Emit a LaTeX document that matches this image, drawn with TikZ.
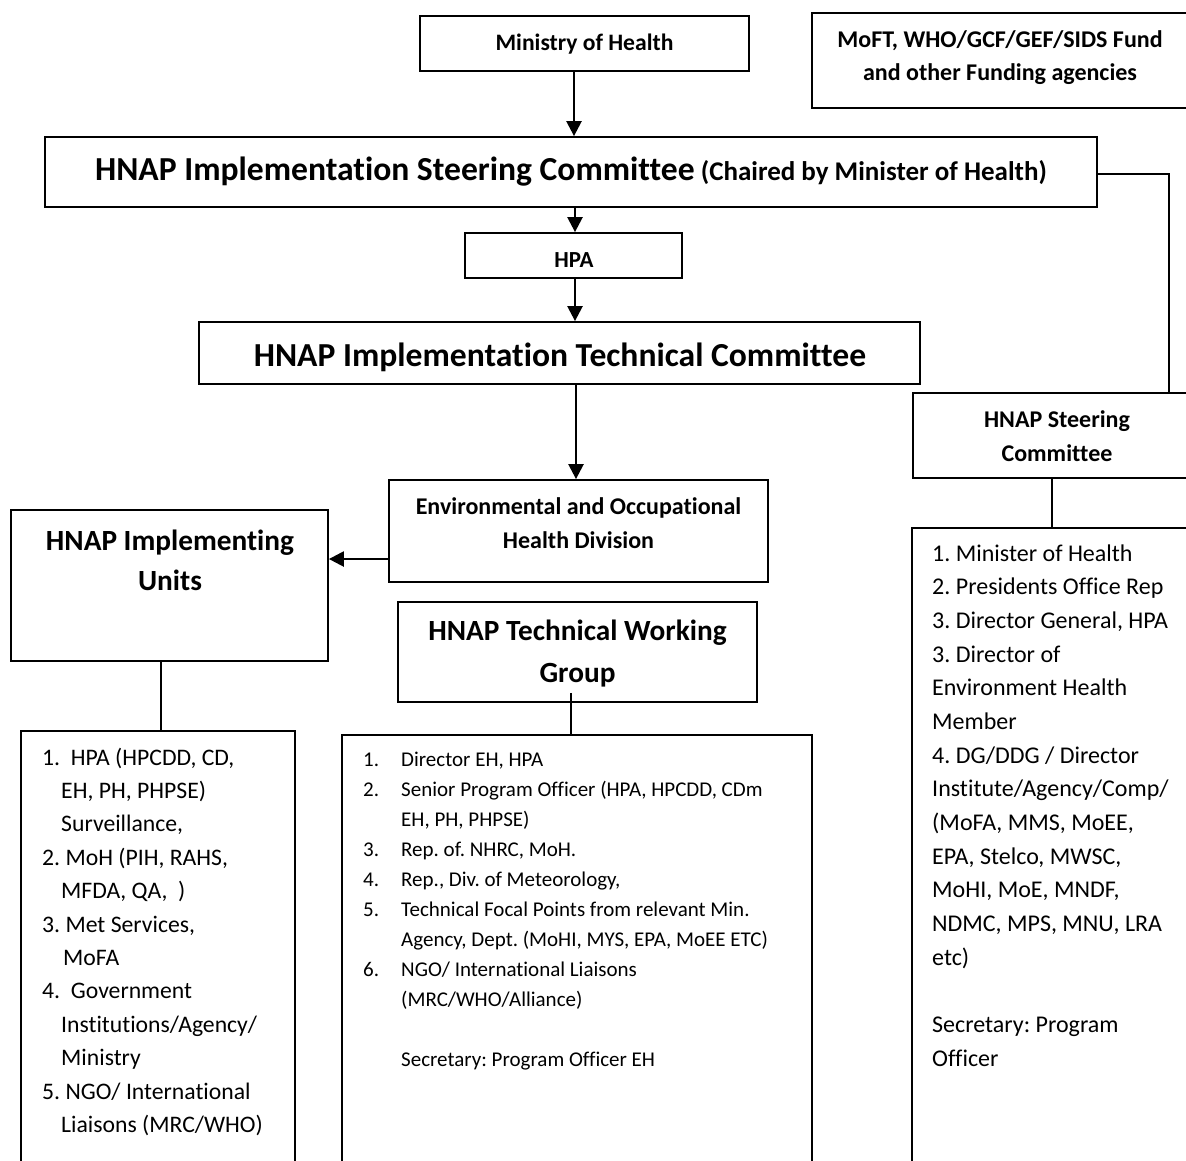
\documentclass[tikz,border=0pt]{standalone}
\usepackage{fontspec}
\setmainfont{Carlito}[Ligatures={NoCommon}]
\usetikzlibrary{arrows.meta,calc}
\newcommand\mnum[1]{\makebox[38pt][l]{#1}}
\frenchspacing
\begin{document}
\frenchspacing
\begin{tikzpicture}[x=1pt,y=-1pt,
  box/.style={draw, line width=1.8pt, inner sep=0pt, rectangle},
  arr/.style={line width=2.4pt, -{Triangle[length=15pt,width=15pt]}},
  con/.style={line width=1.4pt},
  ttl/.style={inner sep=0pt, font=\bfseries\fontsize{24}{33}\selectfont, align=center},
  lst/.style={inner sep=0pt, anchor=north west, align=left}
]
\useasboundingbox (0,0) rectangle (1186,1160);
\clip (0,0) rectangle (1186,1160);

% boxes
\node[box, minimum width=329pt, minimum height=55pt] (moh) at (584.5,43.5) {};
\node[box, minimum width=388pt, minimum height=95pt] (moft) at (1006,60.5) {};
\node[box, minimum width=1052pt, minimum height=70pt] (steer) at (571,172) {};
\node[box, minimum width=217pt, minimum height=45pt] (hpa) at (573.5,255.5) {};
\node[box, minimum width=721pt, minimum height=62pt] (tech) at (559.5,353) {};
\node[box, minimum width=287pt, minimum height=85pt] (hsc) at (1056.5,435.5) {};
\node[box, minimum width=379pt, minimum height=102pt] (env) at (578.5,531) {};
\node[box, minimum width=317pt, minimum height=151pt] (impl) at (169.5,585.5) {};
\node[box, minimum width=359pt, minimum height=100pt] (wg) at (577.5,652) {};
\node[box, minimum width=274pt, minimum height=469pt] (llist) at (158,965.5) {};
\node[box, minimum width=470pt, minimum height=465pt] (mlist) at (577,967.5) {};
\node[box, minimum width=288pt, minimum height=672pt] (rlist) at (1056,864) {};

% titles
\node[ttl, anchor=base, font=\bfseries\fontsize{23.6}{30}\selectfont] (mohT) at (584.5,50.3) {Ministry of Health};
\node[ttl, anchor=north] (moftT) at (1000,24.6) {\strut MoFT, WHO/GCF/GEF/SIDS Fund\\and other Funding agencies};
\node[anchor=base, inner sep=0pt, font=\bfseries] (steerT) at (571,180) {{\fontsize{33.6}{40}\selectfont HNAP Implementation Steering Committee}{\fontsize{27}{30}\selectfont\ (Chaired by Minister of Health)}};
\node[ttl, anchor=base, font=\bfseries\fontsize{23}{30}\selectfont] (hpaT) at (574,267) {HPA};
\node[anchor=base, inner sep=0pt, font=\bfseries\fontsize{33.6}{40}\selectfont] (techT) at (560,366) {HNAP Implementation Technical Committee};
\node[ttl, anchor=north, font=\bfseries\fontsize{24}{34}\selectfont] (hscT) at (1057,403.9) {\strut HNAP Steering\\Committee};
\node[ttl, anchor=north, font=\bfseries\fontsize{24}{34.3}\selectfont] (envT) at (578.5,490) {\strut Environmental and Occupational\\Health Division};
\node[ttl, anchor=north, font=\bfseries\fontsize{29.3}{40}\selectfont] (implT) at (170,522) {\strut HNAP Implementing\\Units};
\node[ttl, anchor=north, font=\bfseries\fontsize{29.3}{42.3}\selectfont] (wgT) at (577.5,610.4) {\strut HNAP Technical Working\\Group};

% lists
\node[lst, font=\fontsize{23.7}{33.4}\selectfont] (lT) at (42,741.6) {\strut 1.\ \ HPA (HPCDD, CD,\\
\hspace*{19pt}EH, PH, PHPSE)\\
\hspace*{19pt}Surveillance,\\
2. MoH (PIH, RAHS,\\
\hspace*{19pt}MFDA, QA,\ \ )\\
3. Met Services,\\
\hspace*{21pt}MoFA\\
4.\ \ Government\\
\hspace*{19pt}Institutions/Agency/\\
\hspace*{19pt}Ministry\\
5. NGO/ International\\
\hspace*{19pt}Liaisons (MRC/WHO)};

\node[lst, font=\fontsize{21}{30}\selectfont] (mT) at (363,745) {\strut\mnum{1.}Director EH, HPA\\
\mnum{2.}Senior Program Officer (HPA, HPCDD, CDm\\
\mnum{}EH, PH, PHPSE)\\
\mnum{3.}Rep. of. NHRC, MoH.\\
\mnum{4.}Rep., Div. of Meteorology,\\
\mnum{5.}Technical Focal Points from relevant Min.\\
\mnum{}Agency, Dept. (MoHI, MYS, EPA, MoEE ETC)\\
\mnum{6.}NGO/ International Liaisons\\
\mnum{}(MRC/WHO/Alliance)\\[30pt]
\mnum{}Secretary: Program Officer EH};

\node[lst, font=\fontsize{24}{33.67}\selectfont] (rT) at (932,537.4) {\strut 1. Minister of Health\\
2. Presidents Office Rep\\
3. Director General, HPA\\
3. Director of\\
Environment Health\\
Member\\
4. DG/DDG / Director\\
Institute/Agency/Comp/\\
(MoFA, MMS, MoEE,\\
EPA, Stelco, MWSC,\\
MoHI, MoE, MNDF,\\
NDMC, MPS, MNU, LRA\\
etc)\\[33.67pt]
Secretary: Program\\
Officer};

% connector columns / rows
\coordinate (xa) at (574,0);
\coordinate (xb) at (575,0);
\coordinate (xc) at (576,0);
\coordinate (ya) at (0,559);
\coordinate (yb) at (0,174);
\coordinate (xd) at (1169,0);
\coordinate (xe) at (1052,0);
\coordinate (xf) at (161,0);
\coordinate (xw) at (571,0);

\draw[arr] (xa |- moh.south) -- (xa |- steer.north);
\draw[arr] (xb |- steer.south) -- (xb |- hpa.north);
\draw[arr] (xb |- hpa.south) -- (xb |- tech.north);
\draw[arr] (xc |- tech.south) -- (xc |- env.north);
\draw[arr] (env.west |- ya) -- (impl.east |- ya);
\draw[con] (steer.east |- yb) -| (xd |- hsc.north);
\draw[con] (xe |- hsc.south) -- (xe |- rlist.north);
\draw[con] (xf |- impl.south) -- (xf |- llist.north);
\draw[con] ($(xw |- wg.south)+(0,-10)$) -- (xw |- mlist.north);
\end{tikzpicture}
\end{document}
